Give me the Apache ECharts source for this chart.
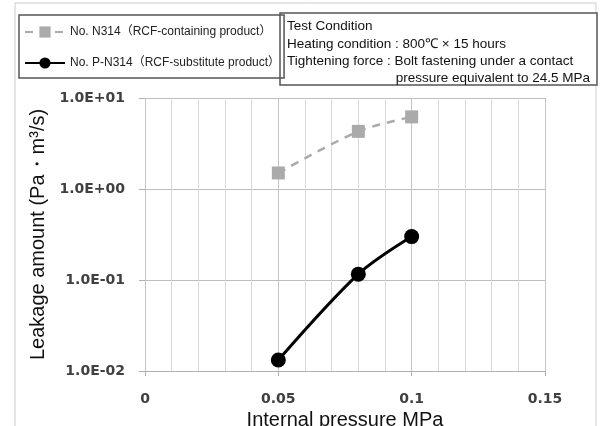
<!DOCTYPE html>
<html>
<head>
<meta charset="utf-8">
<script src="https://cdn.jsdelivr.net/npm/echarts@6/dist/echarts.min.js"></script>
<style>
  html, body { margin: 0; padding: 0; background: #fff; }
  #chart { width: 600px; height: 426px; }
</style>
</head>
<body>
<div id="chart"></div>
<script>
// pressure values (MPa)
const pressures = [0.05, 0.08, 0.1]
// leakage amount, Pa·m3/s
const rcfContaining = [1.5, 4.3, 6.2]
const rcfSubstitute = [0.0132, 0.116, 0.30]
const seriesNames = ['No. N314（RCF-containing product）', 'No. P-N314（RCF-substitute product）']
const xTickLabels = ['0', '0.05', '0.1', '0.15']
const yTickLabels = ['1.0E-02', '1.0E-01', '1.0E+00', '1.0E+01']
const conditionLines = [
  'Test Condition',
  'Heating condition : 800℃ × 15 hours',
  'Tightening force : Bolt fastening under a contact',
]
const conditionTail = 'pressure equivalent to 24.5 MPa'

const chart = echarts.init(document.getElementById('chart'))

function toPairs(ys) {
  return pressures.map((x, i) => [x, ys[i]])
}

const labelFont = {
  color: '#404040',
  fontSize: 14,
  fontWeight: 'bold',
  fontFamily: 'DejaVu Sans',
}

const boxText = {
  fontSize: 13.5,
  lineHeight: 17.5,
  fill: '#111',
  fontFamily: 'Liberation Sans',
}

const option = {
  animation: false,
  backgroundColor: '#fff',
  grid: { left: 145, right: 55, top: 98, bottom: 55, outerBoundsMode: 'none', containLabel: false },
  legend: {
    left: 19,
    top: 15,
    orient: 'vertical',
    itemWidth: 40,
    itemHeight: 14,
    itemGap: 19,
    padding: [11, 4, 9, 5],
    borderColor: '#555',
    borderWidth: 1.5,
    textStyle: {
      fontFamily: 'Liberation Sans, Noto Sans CJK JP',
      fontSize: 12,
      color: '#222',
    },
    data: seriesNames,
  },
  xAxis: {
    type: 'value',
    min: 0,
    max: 0.15,
    interval: 0.05,
    name: 'Internal pressure MPa',
    nameLocation: 'middle',
    nameGap: 39,
    nameTextStyle: { fontSize: 20, color: '#111', fontFamily: 'Liberation Sans' },
    axisLine: { show: true, lineStyle: { color: '#b0b0b0' } },
    axisTick: { show: true, length: 5, lineStyle: { color: '#b0b0b0' } },
    axisLabel: {
      ...labelFont,
      margin: 21,
      formatter: (v) => xTickLabels[Math.round(v / 0.05)] ?? '',
    },
    splitLine: { show: true, lineStyle: { color: '#c4c4c4' } },
    minorTick: { show: false, splitNumber: 5 },
    minorSplitLine: { show: true, lineStyle: { color: '#d9d9d9' } },
  },
  yAxis: {
    type: 'log',
    logBase: 10,
    min: 0.01,
    max: 10,
    name: 'Leakage amount (Pa・m³/s)',
    nameLocation: 'middle',
    nameGap: 92,
    nameTextStyle: { fontSize: 20, color: '#111', fontFamily: 'Liberation Sans' },
    axisLine: { show: false },
    axisTick: { show: true, length: 6, lineStyle: { color: '#b0b0b0' } },
    axisLabel: {
      ...labelFont,
      margin: 20,
      formatter: (v) => yTickLabels[Math.round(Math.log10(v)) + 2] ?? '',
    },
    splitLine: { show: true, lineStyle: { color: '#bdbdbd' } },
  },
  series: [
    {
      name: seriesNames[0],
      type: 'line',
      smooth: 0.3,
      symbol: 'rect',
      symbolSize: 13,
      lineStyle: { color: '#aaaaaa', width: 2.5, type: [8, 7] },
      itemStyle: { color: '#aaaaaa' },
      data: toPairs(rcfContaining),
    },
    {
      name: seriesNames[1],
      type: 'line',
      smooth: 0.3,
      symbol: 'circle',
      symbolSize: 15,
      lineStyle: { color: '#000', width: 3 },
      itemStyle: { color: '#000' },
      data: toPairs(rcfSubstitute),
    },
  ],
  graphic: [
    {
      type: 'rect',
      z: -10,
      shape: { x: 15, y: 3, width: 581, height: 440 },
      style: { fill: 'none', stroke: '#cccccc', lineWidth: 1 },
    },
    {
      type: 'rect',
      shape: { x: 280, y: 13, width: 317, height: 72 },
      style: { fill: '#fff', stroke: '#555', lineWidth: 1.5 },
    },
    {
      type: 'text',
      left: 287,
      top: 18,
      style: { text: conditionLines.join('\n'), ...boxText },
    },
    {
      type: 'text',
      right: 10,
      top: 70,
      style: { text: conditionTail, ...boxText },
    },
  ],
}

chart.setOption(option)
</script>
</body>
</html>
